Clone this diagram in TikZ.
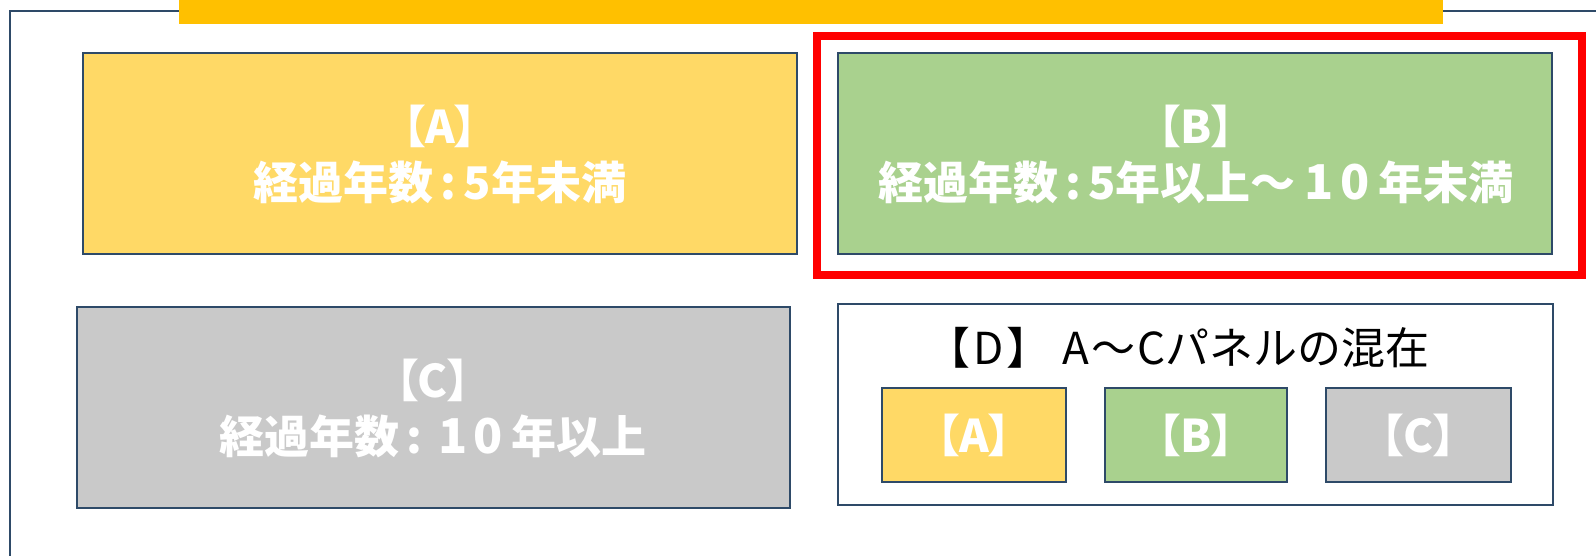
\documentclass[tikz,border=0pt]{standalone}
\usepackage{fontspec}
\newfontfamily\cjk{Noto Sans CJK JP}
\newfontfamily\cjkp[RawFeature=+palt]{Noto Sans CJK JP}
\definecolor{framecol}{HTML}{2E4A68}
\definecolor{barcol}{HTML}{FFC000}
\definecolor{fillA}{HTML}{FFD966}
\definecolor{fillB}{HTML}{A9D18E}
\definecolor{fillC}{HTML}{C9C9C9}
\definecolor{redcol}{HTML}{FF0000}
\tikzset{
  panel/.style={draw=framecol, line width=2pt, rectangle, inner sep=0pt},
  headlbl/.style={inner sep=0pt, text=white, font=\cjkp\bfseries\fontsize{45}{54}\selectfont},
  bodylbl/.style={inner sep=0pt, text=white, font=\cjk\bfseries\fontsize{45}{54}\selectfont},
  titlelbl/.style={inner sep=0pt, text=black, font=\cjk\fontsize{44}{52}\selectfont},
}
\newcommand{\colsep}{{\kern7pt}:{\kern7pt}}
\newcommand{\tenyr}{{\kern9pt}{\fontsize{48}{54}\selectfont 1{\kern6pt}0}{\kern9pt}}
\begin{document}
\begin{tikzpicture}[x=1pt,y=-1pt]
\useasboundingbox (0,0) rectangle (1596,556);
\clip (0,0) rectangle (1596,556);
% outer frame
\draw[framecol, line width=2.5pt] (10,600) -- (10,11) -- (1620,11);
% top bar
\fill[barcol] (179,-5) rectangle (1443,24);
% panel A
\node[panel, fill=fillA, minimum width=714pt, minimum height=201pt] (A) at (440,153.5) {};
\node[headlbl] (Ah) at (440,126) {【A】};
\node[bodylbl] (At) at (440,182) {経過年数\colsep 5年未満};
% panel B
\node[panel, fill=fillB, minimum width=714pt, minimum height=201pt] (B) at (1195,153.5) {};
\node[headlbl] (Bh) at (1196,126) {【B】};
\node[bodylbl] (Bt) at (1196,182) {経過年数\colsep 5年以上～\tenyr 年未満};
% red highlight
\node[draw=redcol, line width=8pt, rectangle, inner sep=0pt, minimum width=765pt, minimum height=239pt] (R) at (1199.5,155.5) {};
% panel C
\node[panel, fill=fillC, minimum width=713pt, minimum height=201pt] (C) at (433.5,407.5) {};
\node[headlbl] (Ch) at (433,380) {【C】};
\node[bodylbl] (Ct) at (433,436) {経過年数\colsep\tenyr 年以上};
% panel D
\node[panel, fill=white, minimum width=715pt, minimum height=201pt] (D) at (1195.5,404.5) {};
\node[titlelbl] (Dt) at (1178,348) {【{\kern3pt}D{\kern3pt}】{\kern12pt}A{\kern2pt}～{\kern2pt}Cパネルの混在};
\node[panel, fill=fillA, minimum width=184pt, minimum height=94pt] (DA) at (974,435) {};
\node[headlbl] (DAl) at (974,435) {【A】};
\node[panel, fill=fillB, minimum width=182pt, minimum height=94pt] (DB) at (1196,435) {};
\node[headlbl] (DBl) at (1196,435) {【B】};
\node[panel, fill=fillC, minimum width=185pt, minimum height=94pt] (DC) at (1418.5,435) {};
\node[headlbl] (DCl) at (1418.5,435) {【C】};
\end{tikzpicture}
\end{document}
